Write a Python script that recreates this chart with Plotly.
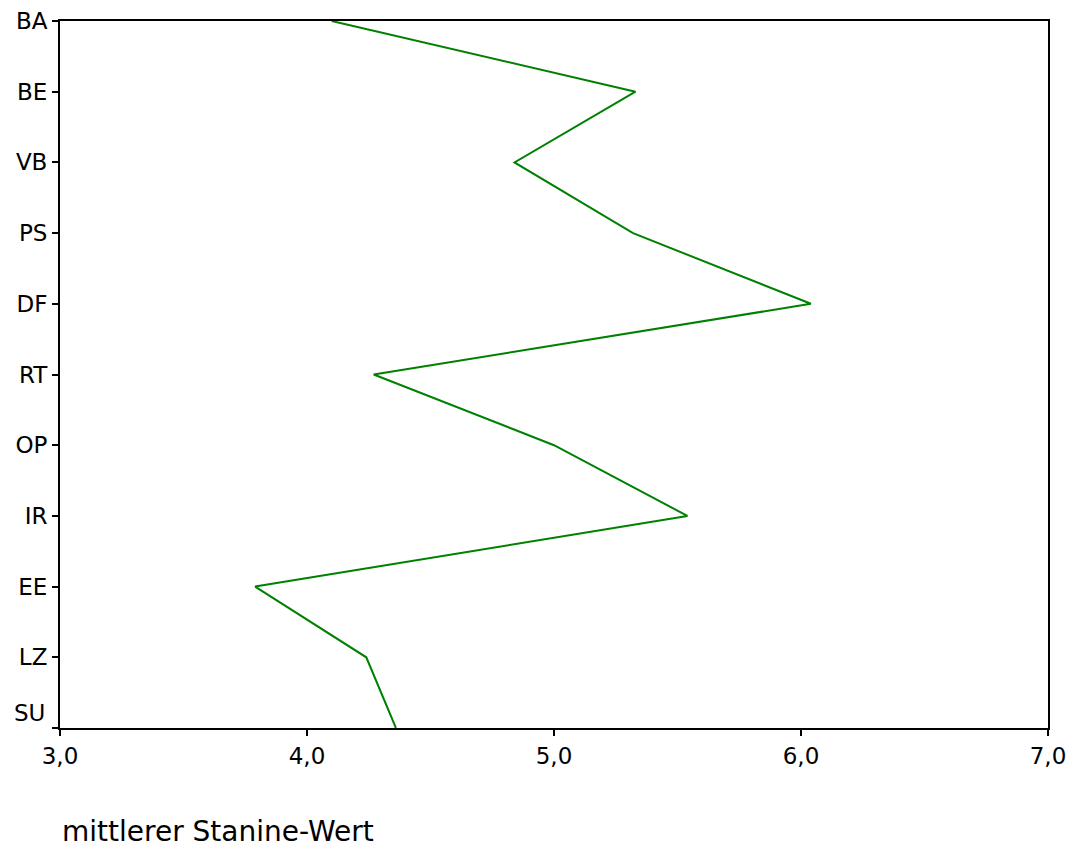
import plotly.graph_objects as go

categories = ["BA", "BE", "VB", "PS", "DF", "RT", "OP", "IR", "EE", "LZ", "SU"]
values = [4.10, 5.33, 4.84, 5.32, 6.04, 4.27, 5.00, 5.54, 3.79, 4.24, 4.36]
x_ticks = [3, 4, 5, 6, 7]
x_tick_labels = ["3,0", "4,0", "5,0", "6,0", "7,0"]
axis_title = "mittlerer Stanine-Wert"

FAMILY = "DejaVu Sans, Liberation Sans, Arial, sans-serif"
tick_font = dict(family=FAMILY, size=23, color="#000000")

fig = go.Figure()
fig.add_trace(go.Scatter(
    x=values, y=categories, mode="lines",
    line=dict(color="#008000", width=2),
    hoverinfo="skip",
))

# y tick labels (last one drawn separately, raised above the x axis as in the reference)
y_ticktext = categories[:-1] + [""]

L, R, T, B = 60, 22, 21, 122
fig.update_layout(
    width=1070, height=850,
    margin=dict(l=L, r=R, t=T, b=B, autoexpand=False),
    paper_bgcolor="white", plot_bgcolor="white",
    showlegend=False,
    font=tick_font,
    xaxis=dict(
        range=[3, 7], tickvals=x_ticks, ticktext=x_tick_labels,
        showgrid=False, zeroline=False, automargin=False,
        showline=True, linecolor="black", linewidth=2, mirror=True,
        ticks="outside", ticklen=6, tickwidth=1.5, tickcolor="black",
        tickfont=tick_font,
    ),
    yaxis=dict(
        type="category", categoryorder="array", categoryarray=categories,
        tickvals=categories, ticktext=y_ticktext,
        range=[10, 0], automargin=False,
        showgrid=False, zeroline=False,
        showline=True, linecolor="black", linewidth=2, mirror=True,
        ticks="outside", ticklen=6, tickwidth=1.5, tickcolor="black",
        tickfont=tick_font, ticklabelstandoff=0,
    ),
)

fig.add_annotation(
    text=categories[-1], x=0, y=categories[-1], xref="paper", yref="y",
    xanchor="right", yanchor="middle", xshift=-13, yshift=15,
    showarrow=False, font=tick_font,
)

pw = 1070 - L - R
ph = 850 - T - B
fig.add_annotation(
    text=axis_title, x=(60 - L) / pw, y=(850 - B - 831) / ph,
    xref="paper", yref="paper", xanchor="left", yanchor="middle",
    showarrow=False, font=dict(family=FAMILY, size=28, color="black"),
)

fig.write_html("out.html")
